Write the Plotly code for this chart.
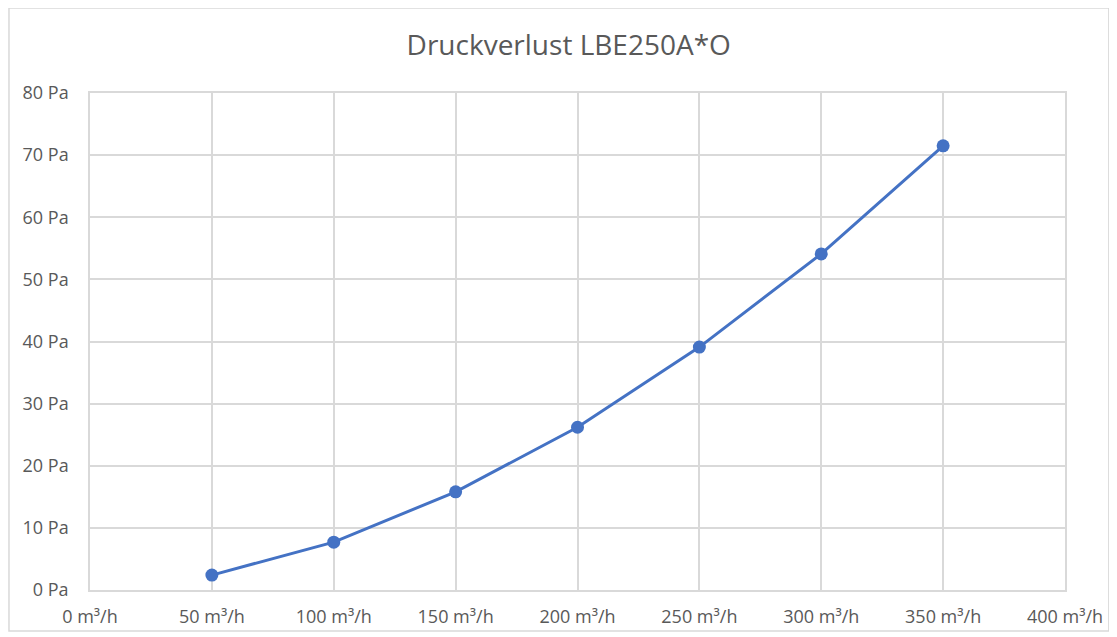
import plotly.graph_objects as go

airflow = [50, 100, 150, 200, 250, 300, 350]
pressure = [2.4, 7.7, 15.8, 26.2, 39.1, 54.1, 71.5]
x_ticks = [0, 50, 100, 150, 200, 250, 300, 350, 400]
y_ticks = [0, 10, 20, 30, 40, 50, 60, 70, 80]
title = "Druckverlust LBE250A*O"

fig = go.Figure()
fig.add_trace(go.Scatter(
    x=airflow, y=pressure, mode="lines+markers",
    line=dict(color="#4472C4", width=3),
    marker=dict(color="#4472C4", size=13),
    showlegend=False,
))

font = "Open Sans, Liberation Sans, sans-serif"
fig.update_layout(
    width=1117, height=637,
    margin=dict(l=82, r=60, t=85, b=55),
    paper_bgcolor="white", plot_bgcolor="white",
    font=dict(family=font, color="#595959", size=18),
    title=dict(text=title, x=0.502, xanchor="center", y=0.942, yanchor="middle",
               font=dict(size=28, color="#595959", family=font)),
    shapes=[dict(type="rect", xref="paper", yref="paper",
                 x0=-0.0831, x1=1.045, y0=-0.0825, y1=1.171,
                 line=dict(color="#d9d9d9", width=1.5), layer="below")],
)
fig.update_xaxes(
    range=[0, 400], tickvals=x_ticks, ticktext=[f"{v} m³/h" for v in x_ticks],
    showgrid=True, gridcolor="#d9d9d9", gridwidth=1.5,
    showline=True, linecolor="#d9d9d9", linewidth=1.5, mirror=True,
    zeroline=False, ticks="", ticklabelstandoff=10,
    tickfont=dict(size=18, color="#595959"),
)
fig.update_yaxes(
    range=[0, 80], tickvals=y_ticks, ticktext=[f"{v} Pa" for v in y_ticks],
    showgrid=True, gridcolor="#d9d9d9", gridwidth=1.5,
    showline=True, linecolor="#d9d9d9", linewidth=1.5, mirror=True,
    zeroline=False, ticks="", ticklabelstandoff=16,
    tickfont=dict(size=18, color="#595959"),
)

fig.write_html("out.html")
